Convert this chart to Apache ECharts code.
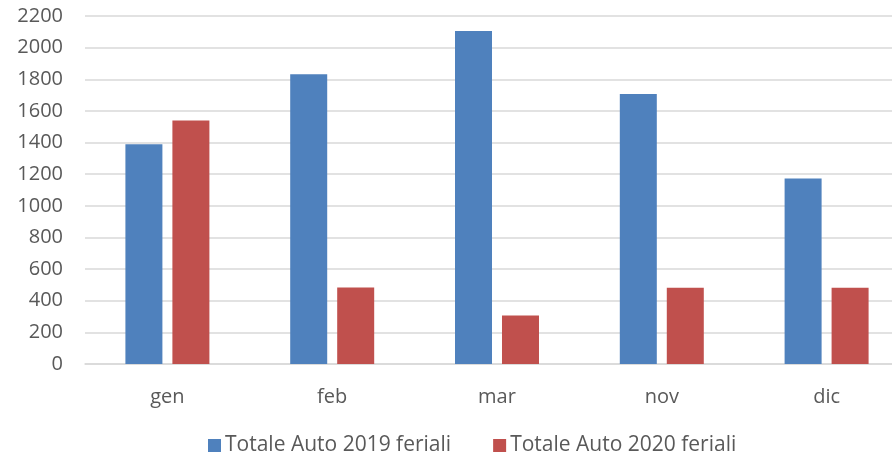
<!DOCTYPE html>
<html><head><meta charset="utf-8">
<script src="https://cdn.jsdelivr.net/npm/echarts@6/dist/echarts.min.js"></script>
<style>html,body{margin:0;padding:0;background:#fff}#c{width:892px;height:460px}</style>
</head><body><div id="c"></div>
<script>
const categories = ['gen', 'feb', 'mar', 'nov', 'dic'];
const seriesNames = ['Totale Auto 2019 feriali', 'Totale Auto 2020 feriali'];
const values2019 = [1390, 1832, 2105, 1707, 1173];
const values2020 = [1540, 483, 307, 482, 482];
const yTicks = { min: 0, max: 2200, interval: 200 };

const chart = echarts.init(document.getElementById('c'), null, { renderer: 'canvas' });
const font = '"Open Sans", "Liberation Sans", sans-serif';
chart.setOption({
  animation: false,
  color: ['#4f81bd', '#c0504d'],
  grid: { left: 85, width: 824, top: 16, height: 348, containLabel: false, outerBoundsMode: 'none' },
  legend: {
    top: 430, left: 203, itemWidth: 13, itemHeight: 13, itemGap: 42, icon: 'rect',
    textStyle: { fontFamily: font, fontSize: 21, color: '#595959', padding: [0, 0, 0, -1] },
    data: seriesNames
  },
  xAxis: {
    type: 'category', data: categories,
    axisLine: { lineStyle: { color: '#d9d9d9', width: 1.5 } },
    axisTick: { show: false },
    axisLabel: { fontFamily: font, fontSize: 20, color: '#595959', margin: 23 }
  },
  yAxis: {
    type: 'value', min: yTicks.min, max: yTicks.max, interval: yTicks.interval,
    axisLine: { show: false }, axisTick: { show: false },
    splitLine: { lineStyle: { color: '#d9d9d9', width: 1.5 } },
    axisLabel: { fontFamily: font, fontSize: 20, color: '#595959', margin: 22,
      formatter: v => String(v) }
  },
  series: [
    { name: seriesNames[0], type: 'bar', data: values2019, barWidth: 37, barGap: '27%' },
    { name: seriesNames[1], type: 'bar', data: values2020, barWidth: 37, barGap: '27%' }
  ]
});
</script></body></html>
